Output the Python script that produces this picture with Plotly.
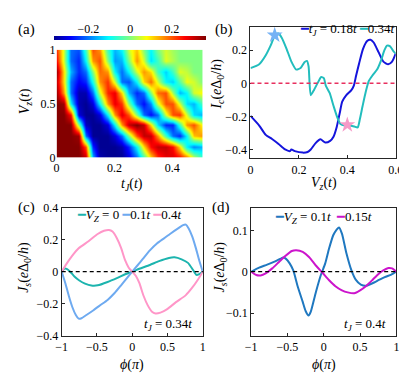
import plotly.graph_objects as go

W, H = 407, 375
FONT = '"Liberation Serif", "Times New Roman", Times, serif'

# ---- (a) heatmap data: rows Vz = 0..1 step 0.1, cols tJ = 0..0.5 step 0.025
tj_grid = [0, .025, .05, .075, .1, .125, .15, .175, .2, .225, .25, .275, .3, .325, .35, .375, .4, .425, .45, .475, .5]
vz_grid = [0, .1, .2, .3, .4, .5, .6, .7, .8, .9, 1.0]
ic_map = [
    [0.35, 0.35, 0.35, 0.35, 0.3, -0.15, -0.33, -0.35, -0.35, -0.35, -0.3, -0.2, -0.05, 0.1, 0.22, 0.27, 0.28, 0.25, 0.18, 0.05, -0.05],
    [0.35, 0.35, 0.35, 0.35, 0.2, -0.25, -0.35, -0.35, -0.35, -0.33, -0.25, -0.1, 0.1, 0.25, 0.3, 0.3, 0.25, 0.1, -0.1, -0.18, -0.15],
    [0.35, 0.35, 0.35, 0.33, -0.2, -0.35, -0.35, -0.35, -0.3, -0.2, 0.0, 0.2, 0.3, 0.3, 0.15, -0.05, -0.2, -0.25, -0.1, 0.12, 0.15],
    [0.35, 0.35, 0.35, 0.0, -0.32, -0.35, -0.35, -0.3, -0.1, 0.15, 0.3, 0.35, 0.3, 0.1, -0.12, -0.25, -0.25, -0.05, 0.15, 0.2, 0.08],
    [0.35, 0.35, 0.25, -0.3, -0.35, -0.35, -0.3, -0.1, 0.15, 0.28, 0.2, 0.0, -0.2, -0.27, -0.2, 0.05, 0.2, 0.22, 0.05, -0.12, -0.15],
    [0.35, 0.33, -0.1, -0.33, -0.35, -0.3, -0.1, 0.15, 0.27, 0.22, 0.0, -0.2, -0.27, -0.18, 0.05, 0.2, 0.2, 0.05, -0.12, -0.15, -0.05],
    [0.33, 0.15, -0.2, -0.33, -0.33, -0.2, 0.05, 0.23, 0.27, 0.1, -0.15, -0.25, -0.2, 0.0, 0.18, 0.2, 0.02, -0.15, -0.1, 0.05, 0.08],
    [0.3, 0.1, -0.2, -0.28, -0.25, -0.08, 0.15, 0.22, 0.05, -0.2, -0.22, -0.1, 0.1, 0.18, 0.05, -0.1, -0.13, -0.03, 0.07, 0.05, 0.0],
    [0.33, 0.1, -0.15, -0.25, -0.2, 0.0, 0.18, 0.15, -0.1, -0.2, -0.1, 0.05, 0.15, 0.1, -0.05, -0.13, -0.05, 0.06, 0.04, 0.0, 0.0],
    [0.25, 0.05, -0.2, -0.25, -0.1, 0.15, 0.2, 0.0, -0.17, -0.15, 0.0, 0.15, 0.05, -0.12, -0.05, 0.06, 0.03, 0.0, 0.0, 0.0, 0.0],
    [0.22, 0.05, -0.2, -0.22, -0.05, 0.2, 0.15, -0.05, -0.15, -0.1, 0.05, 0.12, 0.0, -0.1, 0.0, 0.05, 0.02, 0.0, 0.0, 0.0, 0.0],
]
cbar_ticks = [-0.2, 0, 0.2]

# ---- (b) critical current vs Vz
vz_018 = [0, 0.036, 0.063, 0.089, 0.116, 0.143, 0.163, 0.169, 0.183, 0.216, 0.236, 0.249, 0.269, 0.289, 0.309,
          0.329, 0.343, 0.356, 0.369, 0.379, 0.396, 0.416, 0.427, 0.436, 0.449, 0.465, 0.483, 0.496, 0.509,
          0.529, 0.549, 0.569, 0.585, 0.6]
ic_018 = [-0.196, -0.254, -0.31, -0.335, -0.365, -0.398, -0.408, -0.398, -0.408, -0.417, -0.413, -0.398, -0.36,
          -0.337, -0.356, -0.346, -0.321, -0.264, -0.177, -0.11, -0.071, -0.042, -0.013, 0.044, 0.121, 0.208,
          0.256, 0.262, 0.246, 0.188, 0.131, 0.115, 0.131, 0.179]
vz_034 = [0, 0.036, 0.063, 0.083, 0.103, 0.116, 0.129, 0.149, 0.169, 0.189, 0.207, 0.223, 0.233, 0.24, 0.249,
          0.263, 0.279, 0.292, 0.303, 0.311, 0.327, 0.343, 0.359, 0.372, 0.389, 0.409, 0.429, 0.443, 0.452,
          0.463, 0.476, 0.489, 0.505, 0.523, 0.54, 0.553, 0.564, 0.577, 0.591, 0.6]
ic_034 = [0.092, 0.115, 0.169, 0.227, 0.294, 0.3, 0.275, 0.208, 0.131, 0.083, 0.092, 0.127, 0.135, 0.102, -0.071,
          -0.038, 0.006, 0.038, 0.031, -0.013, -0.058, -0.135, -0.206, -0.244, -0.254, -0.254, -0.26, -0.265,
          -0.215, -0.138, -0.052, 0.015, 0.05, 0.083, 0.14, 0.198, 0.227, 0.223, 0.192, 0.179]
star_vz = [0.1, 0.4]
star_ic = [0.29, -0.25]

# ---- (c) CPR at tJ = 0.34t
phi_c0 = [-1, -0.96, -0.93, -0.88, -0.82, -0.75, -0.67, -0.58, -0.49, -0.35, -0.21, -0.1, 0, 0.1, 0.25, 0.38,
          0.52, 0.6, 0.7, 0.79, 0.86, 0.91, 0.95, 1]
js_c0 = [0, 0.02, 0.018, 0.0, -0.03, -0.055, -0.074, -0.086, -0.085, -0.064, -0.038, -0.016, 0, 0.018, 0.042,
         0.066, 0.086, 0.09, 0.077, 0.055, 0.012, -0.02, -0.015, 0]
phi_c1 = [-1, -0.95, -0.9, -0.85, -0.8, -0.76, -0.72, -0.65, -0.55, -0.45, -0.35, -0.25, -0.15, -0.07, 0, 0.07,
          0.15, 0.25, 0.35, 0.45, 0.55, 0.65, 0.72, 0.76, 0.8, 0.85, 0.9, 0.95, 1]
js_c1 = [0, -0.07, -0.15, -0.22, -0.27, -0.293, -0.29, -0.27, -0.24, -0.208, -0.176, -0.133, -0.08, -0.037, 0,
         0.037, 0.08, 0.133, 0.176, 0.208, 0.24, 0.27, 0.29, 0.293, 0.27, 0.22, 0.15, 0.07, 0]
phi_c4 = [-1, -0.93, -0.85, -0.76, -0.62, -0.49, -0.4, -0.33, -0.28, -0.22, -0.16, -0.1, -0.05, 0, 0.05, 0.1,
          0.16, 0.22, 0.28, 0.33, 0.4, 0.49, 0.62, 0.76, 0.85, 0.93, 1]
js_c4 = [0, 0.05, 0.1, 0.146, 0.19, 0.235, 0.255, 0.26, 0.25, 0.21, 0.15, 0.07, 0.025, 0, -0.025, -0.07, -0.15,
         -0.21, -0.25, -0.26, -0.255, -0.235, -0.19, -0.146, -0.1, -0.05, 0]

# ---- (d) CPR at tJ = 0.4t
phi_d1 = [-1, -0.89, -0.78, -0.67, -0.6, -0.56, -0.52, -0.47, -0.42, -0.36, -0.29, -0.25, -0.21, -0.18, -0.11,
          -0.04, 0.02, 0.07, 0.13, 0.17, 0.21, 0.25, 0.31, 0.38, 0.44, 0.51, 0.58, 0.67, 0.76, 0.84, 0.93, 1]
js_d1 = [0, 0.01, 0.017, 0.025, 0.031, 0.034, 0.031, 0.02, 0.003, -0.035, -0.073, -0.095, -0.106, -0.097, -0.05,
         -0.008, 0.02, 0.054, 0.088, 0.1, 0.107, 0.092, 0.046, 0.004, -0.019, -0.031, -0.034, -0.028, -0.02,
         -0.013, -0.007, 0]
phi_d15 = [-1, -0.93, -0.87, -0.8, -0.71, -0.62, -0.53, -0.44, -0.38, -0.29, -0.2, -0.11, -0.02, 0.07, 0.16,
           0.25, 0.33, 0.42, 0.5, 0.58, 0.67, 0.75, 0.82, 0.89, 0.94, 1]
js_d15 = [0, -0.008, -0.009, -0.004, 0.008, 0.023, 0.038, 0.05, 0.052, 0.048, 0.035, 0.015, -0.002, -0.02,
          -0.035, -0.045, -0.05, -0.052, -0.045, -0.035, -0.02, -0.006, 0.003, 0.009, 0.008, 0]

jet = [[0, "rgb(0,0,143)"], [0.11, "rgb(0,0,255)"], [0.36, "rgb(0,255,255)"], [0.5, "rgb(128,255,128)"],
       [0.61, "rgb(255,255,0)"], [0.86, "rgb(255,0,0)"], [1, "rgb(128,0,0)"]]


def px(x):
    return x / W


def py(y):
    return 1 - y / H


fig = go.Figure()
fig.add_trace(go.Heatmap(x=tj_grid, y=vz_grid, z=ic_map, colorscale=jet, zmin=-0.353, zmax=0.353,
                         zsmooth="best", xaxis="x", yaxis="y",
                         colorbar=dict(orientation="h", x=px(120), xanchor="center", y=py(22), yanchor="top",
                                       len=152, lenmode="pixels", thickness=4, thicknessmode="pixels",
                                       xpad=0, ypad=0, outlinewidth=0, showticklabels=False, ticks="")))
# empty trace so the colorbar label axis gets drawn
fig.add_trace(go.Scatter(x=[], y=[], xaxis="x5", yaxis="y5", showlegend=False))

spl = dict(shape="spline", smoothing=0.6, width=2)
fig.add_trace(go.Scatter(x=vz_018, y=ic_018, mode="lines", line=dict(color="#1414dc", **spl), xaxis="x2", yaxis="y2"))
fig.add_trace(go.Scatter(x=vz_034, y=ic_034, mode="lines", line=dict(color="#22bdbd", **spl), xaxis="x2", yaxis="y2"))
fig.add_trace(go.Scatter(x=star_vz, y=star_ic, mode="markers", xaxis="x2", yaxis="y2",
                         marker=dict(symbol="star", size=12, color=["#76b2f5", "#f59ac8"], line=dict(width=0))))

fig.add_trace(go.Scatter(x=phi_c0, y=js_c0, mode="lines", line=dict(color="#1cb4ae", **spl), xaxis="x3", yaxis="y3"))
fig.add_trace(go.Scatter(x=phi_c1, y=js_c1, mode="lines", line=dict(color="#6eaaf0", **spl), xaxis="x3", yaxis="y3"))
fig.add_trace(go.Scatter(x=phi_c4, y=js_c4, mode="lines", line=dict(color="#ff96c8", **spl), xaxis="x3", yaxis="y3"))

fig.add_trace(go.Scatter(x=phi_d1, y=js_d1, mode="lines", line=dict(color="#1f78c0", **spl), xaxis="x4", yaxis="y4"))
fig.add_trace(go.Scatter(x=phi_d15, y=js_d15, mode="lines", line=dict(color="#cc14cc", **spl), xaxis="x4", yaxis="y4"))

tick_font = dict(family=FONT, size=12, color="#000")
boxed = dict(showline=True, mirror=True, linecolor="#262626", linewidth=1, ticks="inside", ticklen=3,
             tickcolor="#262626", showgrid=False, zeroline=False, tickfont=tick_font)

fig.update_layout(
    width=W, height=H, margin=dict(l=0, r=0, t=0, b=0), showlegend=False,
    plot_bgcolor="white", paper_bgcolor="white", font=dict(family=FONT, color="#000"),
    xaxis=dict(domain=[px(44), px(195)], range=[0, 0.505], tickvals=[0, 0.2, 0.4], showgrid=False,
               zeroline=False, showline=False, ticks="", tickfont=tick_font, anchor="y", ticklabelstandoff=2),
    yaxis=dict(domain=[py(148), py(36)], range=[0, 1], tickvals=[0, 0.5, 1], showgrid=False,
               zeroline=False, showline=False, ticks="", tickfont=tick_font, anchor="x"),
    xaxis5=dict(domain=[px(44), px(196)], range=[-0.353, 0.353], tickvals=cbar_ticks, side="top",
                showgrid=False, zeroline=False, showline=False, ticks="", tickfont=tick_font, anchor="y5"),
    yaxis5=dict(domain=[py(26), py(22)], visible=False, anchor="x5"),
    xaxis2=dict(domain=[px(244.3), px(394.3)], range=[0, 0.6], tickvals=[0, 0.2, 0.4, 0.6], anchor="y2", **boxed),
    yaxis2=dict(domain=[py(149), py(12)], range=[-0.452, 0.342], tickvals=[-0.4, -0.2, 0, 0.2], anchor="x2", **boxed),
    xaxis3=dict(domain=[px(49.3), px(195)], range=[-1, 1], tickvals=[-1, -0.5, 0, 0.5, 1], anchor="y3", **boxed),
    yaxis3=dict(domain=[py(333.3), py(200)], range=[-0.4, 0.4], tickvals=[-0.4, -0.2, 0, 0.2, 0.4],
                anchor="x3", **boxed),
    xaxis4=dict(domain=[px(245), px(395)], range=[-1, 1], tickvals=[-1, -0.5, 0, 0.5, 1], anchor="y4", **boxed),
    yaxis4=dict(domain=[py(333.3), py(200)], range=[-0.155, 0.155], tickvals=[-0.1, 0, 0.1], anchor="x4", **boxed),
)

# zero reference lines
fig.add_shape(type="line", xref="x2 domain", yref="y2", x0=0, x1=1, y0=0, y1=0,
              line=dict(color="#e8305f", width=1.5, dash="4px,3px"))
for ax in ["3", "4"]:
    fig.add_shape(type="line", xref=f"x{ax} domain", yref=f"y{ax}", x0=0, x1=1, y0=0, y1=0,
                  line=dict(color="#000", width=1.2, dash="4px,3px"))


def note(text, x, y, size=13, xanchor="center", angle=0):
    fig.add_annotation(text=text, x=px(x), y=py(y), xref="paper", yref="paper", showarrow=False,
                       xanchor=xanchor, yanchor="middle", textangle=angle, font=dict(family=FONT, size=size))


def seg(color):
    return f'<span style="color:{color};font-family:DejaVu Sans">━</span>'


# panel labels
note("(a)", 13, 15, 15)
note("(b)", 217, 15, 15)
note("(c)", 13, 200, 15)
note("(d)", 214, 200, 15)

# axis titles
note("<i>V<sub>z</sub></i>(<i>t</i>)", 12, 90, 14, angle=-90)
note("<i>t<sub>J</sub></i>(<i>t</i>)", 122, 176, 14)
note("<i>I<sub>c</sub></i>(<i>e</i>Δ<sub>0</sub>/<i>h</i>)", 210, 72, 14, angle=-90)
note("<i>V<sub>z</sub></i>(<i>t</i>)", 320, 175, 14)
note("<i>J<sub>s</sub></i>(<i>e</i>Δ<sub>0</sub>/<i>h</i>)", 11, 262, 14, angle=-90)
note("<i>ϕ</i>(<i>π</i>)", 122, 364, 14)
note("<i>J<sub>s</sub></i>(<i>e</i>Δ<sub>0</sub>/<i>h</i>)", 213, 262, 14, angle=-90)
note("<i>ϕ</i>(<i>π</i>)", 320, 364, 14)

# legends
note(seg("#1414dc") + "<i>t<sub>J</sub></i> = 0.18<i>t</i> " + seg("#22bdbd") + "0.34<i>t</i>", 396, 15, 13,
     xanchor="right")
note(seg("#1cb4ae") + "<i>V<sub>Z</sub></i> = 0 " + seg("#6eaaf0") + "0.1<i>t</i> " + seg("#ff96c8") + "0.4<i>t</i>",
     119, 208, 13)
note(seg("#1f78c0") + "<i>V<sub>Z</sub></i> = 0.1<i>t</i>  " + seg("#cc14cc") + "0.15<i>t</i>", 320, 210, 13)
note("<i>t<sub>J</sub></i> = 0.34<i>t</i>", 186, 322, 13, xanchor="right")
note("<i>t<sub>J</sub></i> = 0.4<i>t</i>", 386, 322, 13, xanchor="right")

fig.write_html("out.html")
